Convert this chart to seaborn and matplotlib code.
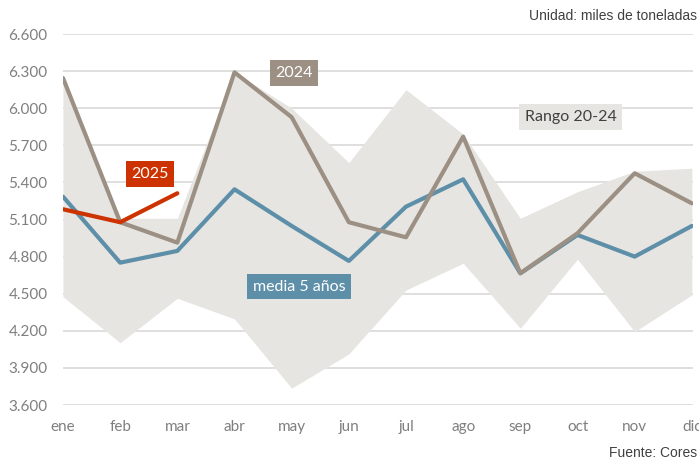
import pandas as pd
import matplotlib
matplotlib.use('Agg')
from matplotlib import pyplot as plt
import seaborn as sns

meses = ['ene', 'feb', 'mar', 'abr', 'may', 'jun', 'jul', 'ago', 'sep', 'oct', 'nov', 'dic']
rango_max = [6240, 5110, 5110, 6290, 6000, 5560, 6150, 5790, 5110, 5325, 5490, 5515]
rango_min = [4476, 4104, 4463, 4296, 3736, 4013, 4530, 4746, 4221, 4779, 4193, 4490]
serie_2024 = [6244, 5078, 4913, 6290, 5927, 5078, 4956, 5770, 4665, 4989, 5474, 5231]
media_5 = [5285, 4751, 4846, 5344, 5048, 4765, 5204, 5425, 4665, 4975, 4800, 5048]
serie_2025 = [5183, 5078, 5312]

sns.set_theme(style='white')
plt.rcParams['font.family'] = ['Lato', 'DejaVu Sans']

df = pd.DataFrame({'mes': range(12), 'max': rango_max, 'min': rango_min,
                   '2024': serie_2024, 'media': media_5})
df25 = pd.DataFrame({'mes': range(3), 'v': serie_2025})

fig = plt.figure(figsize=(6.99, 4.61), dpi=100)
ax = fig.add_axes([63/699, 1-405/461, 630/699, 371/461])

# grid
for v in range(3600, 6601, 300):
    ax.axhline(v, color='#d9d9d9', lw=1.2, zorder=0)

ax.fill_between(df['mes'], df['min'], df['max'], color='#e6e5e1', lw=0, zorder=1)
sns.lineplot(data=df, x='mes', y='media', color='#5e8fa9', lw=3, ax=ax, zorder=3)
sns.lineplot(data=df, x='mes', y='2024', color='#9c9084', lw=3, ax=ax, zorder=4)
sns.lineplot(data=df25, x='mes', y='v', color='#cc3300', lw=3, ax=ax, zorder=5)

ax.set_xlim(0, 11.02)
ax.set_ylim(3600, 6600)
ax.set_xticks(range(12))
ax.set_xticklabels(meses)
ticks = list(range(3600, 6601, 300))
ax.set_yticks(ticks)
ax.set_yticklabels([f'{t:,}'.replace(',', '.') for t in ticks])
ax.tick_params(axis='both', colors='#7f7f7f', labelsize=11, length=0)
ax.tick_params(axis='x', pad=11)
ax.tick_params(axis='y', pad=11)
ax.set_xlabel('')
ax.set_ylabel('')
for s in ax.spines.values():
    s.set_visible(False)

# labels
def etiqueta(x, y, txt, fc, tc):
    ax.text(x, y, txt, ha='center', va='center', fontsize=11.5, color=tc, zorder=6,
            bbox=dict(boxstyle='square,pad=0.35', fc=fc, ec='none'))

etiqueta(4.04, 6285, '2024', '#9c9084', 'white')
etiqueta(1.52, 5468, '2025', '#cc3300', 'white')
etiqueta(4.13, 4555, 'media 5 años', '#5e8fa9', 'white')
etiqueta(8.88, 5929, 'Rango 20-24', '#e6e5e1', '#404040')

fig.text(697/699, 1-16/461, 'Unidad: miles de toneladas', ha='right', va='center',
         fontsize=10, color='#404040', family='Liberation Sans')
fig.text(697/699, 1-453/461, 'Fuente: Cores', ha='right', va='center',
         fontsize=10, color='#404040', family='Liberation Sans')

fig.savefig('out.png', dpi=100)
